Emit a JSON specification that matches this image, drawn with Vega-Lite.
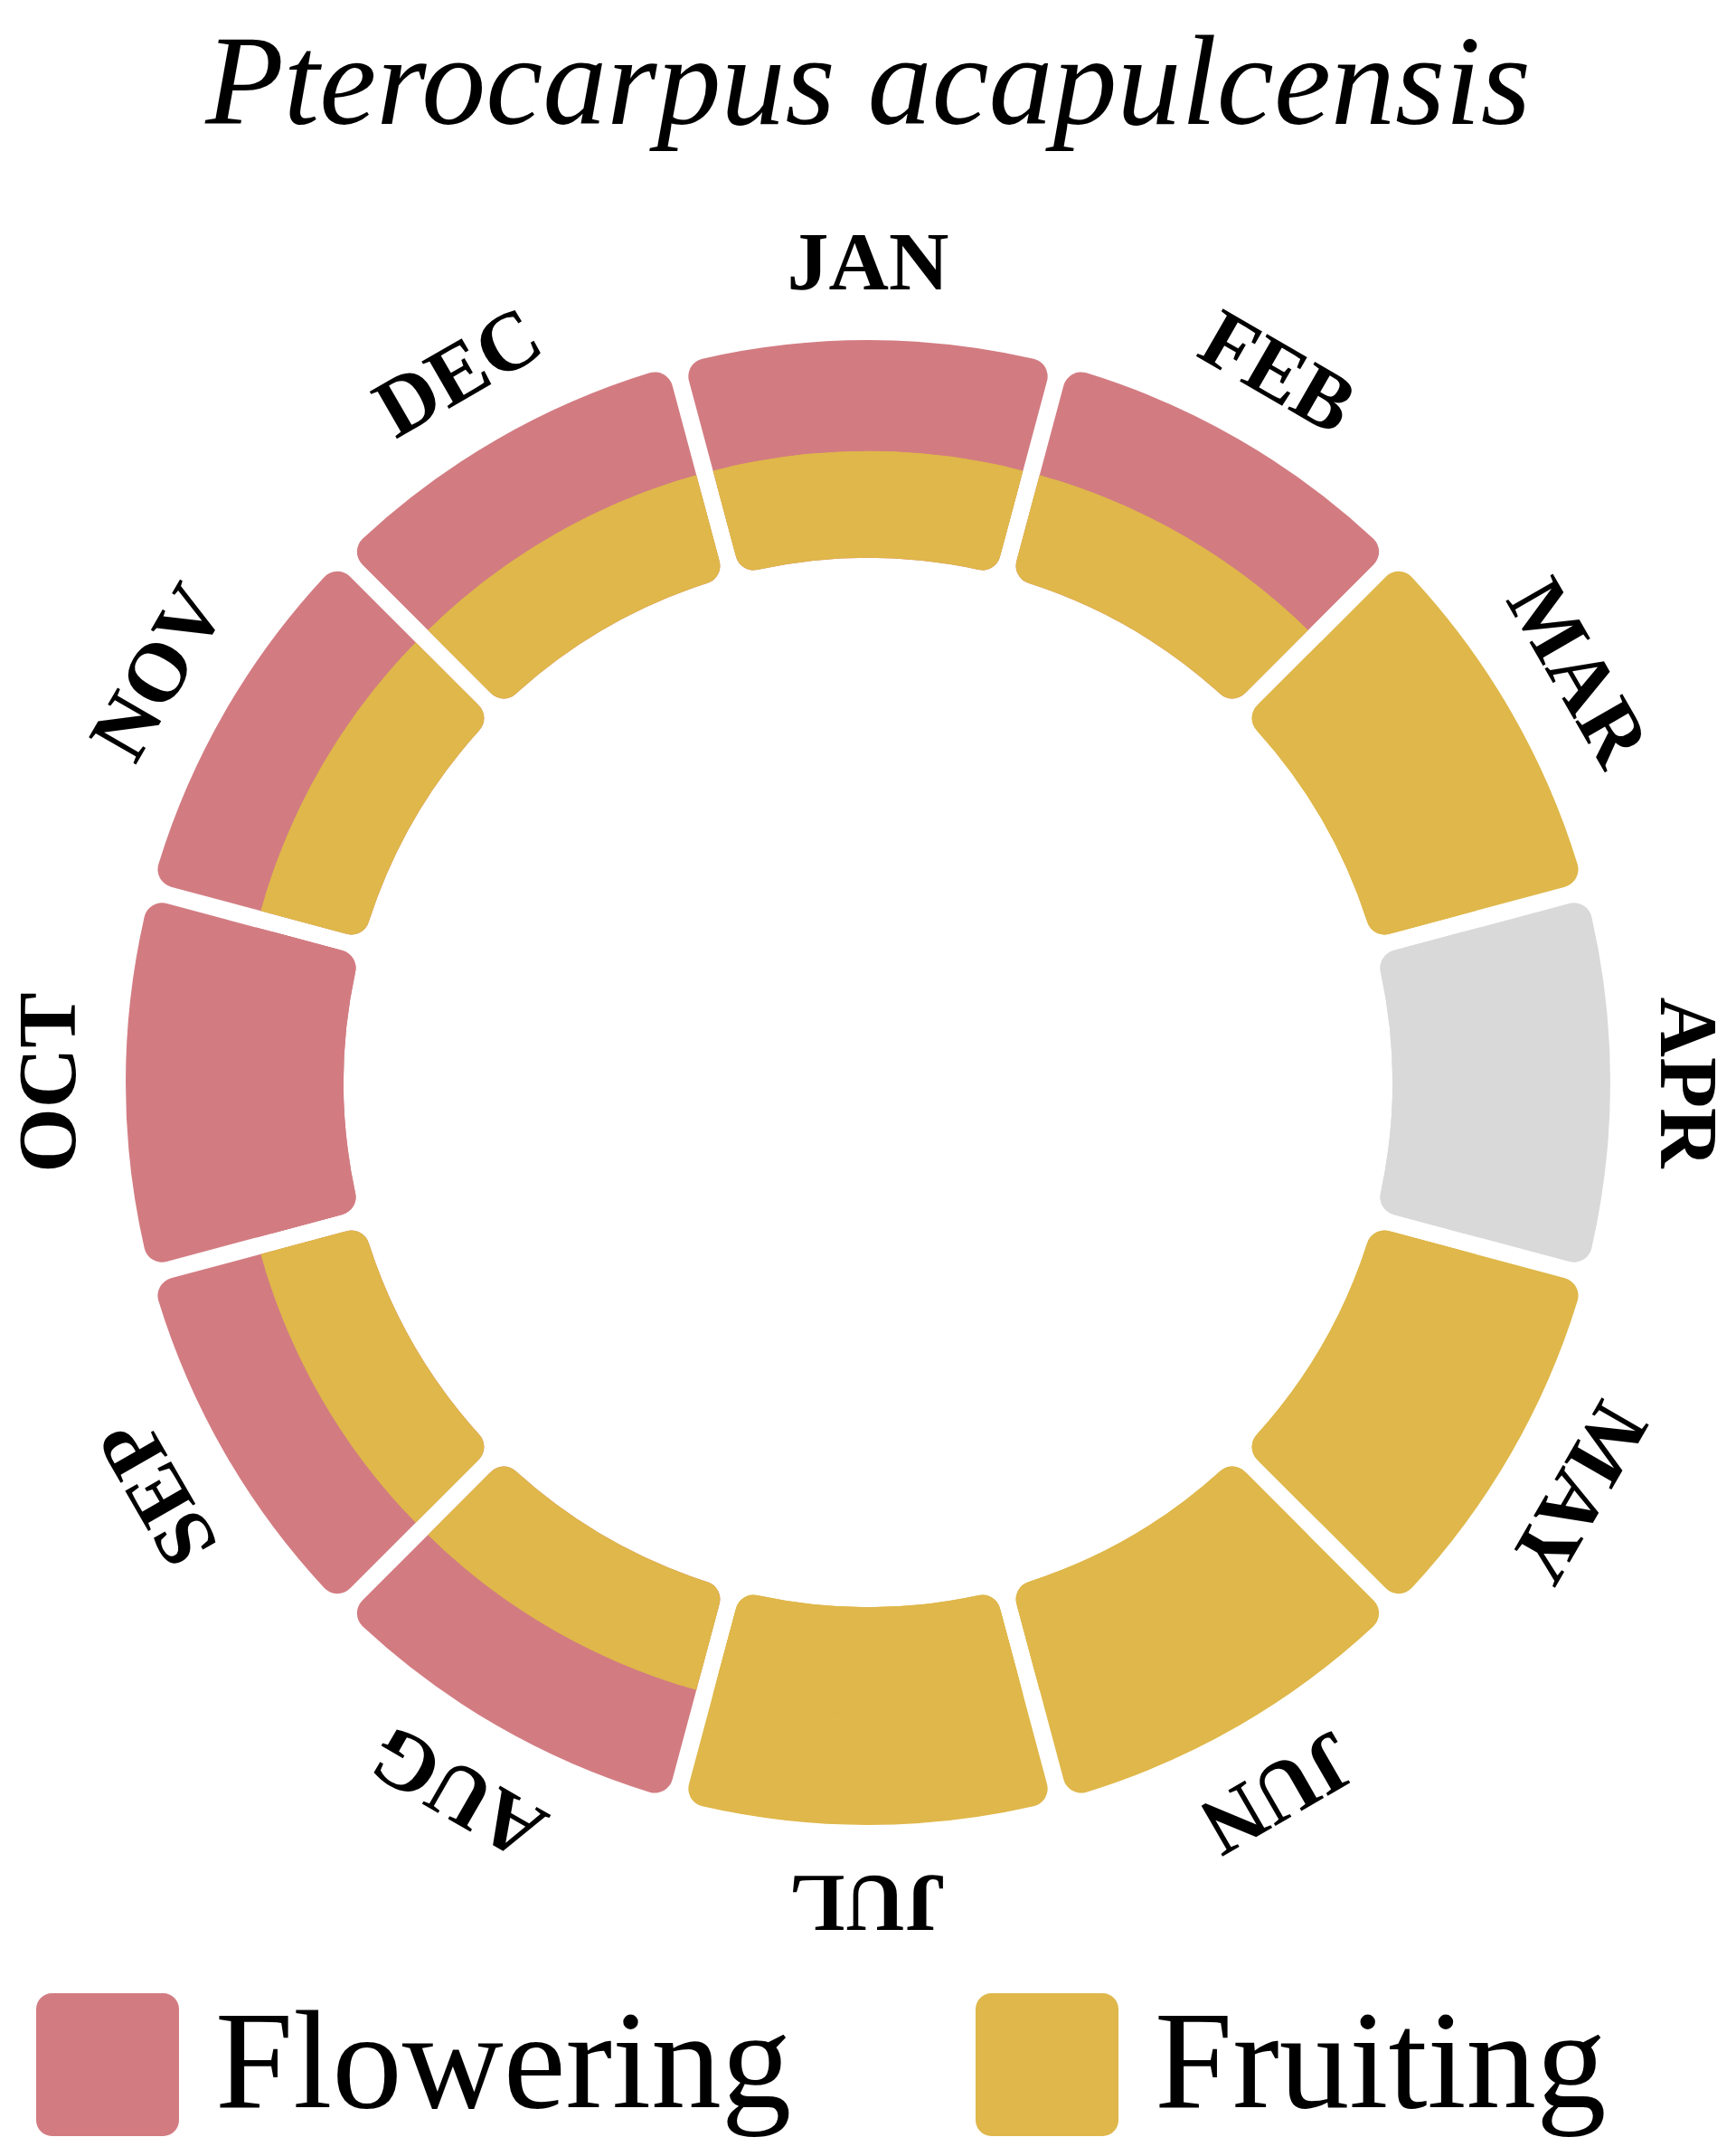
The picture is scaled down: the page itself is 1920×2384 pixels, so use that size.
{
  "$schema": "https://vega.github.io/schema/vega-lite/v6.json",
  "width": 1920,
  "height": 1994,
  "autosize": {"type": "none"},
  "padding": {"top": 200, "left": 0, "right": 0, "bottom": 190},
  "background": "white",
  "config": {"view": {"stroke": null}},
  "title": {
    "text": "Pterocarpus acapulcensis",
    "font": "Liberation Serif",
    "fontStyle": "italic",
    "fontWeight": "normal",
    "fontSize": 142,
    "color": "black",
    "anchor": "middle",
    "baseline": "alphabetic",
    "offset": -79
  },
  "data": {
    "values": [
      {"month": "JAN", "idx": 1, "outer": "Flowering", "inner": "Fruiting"},
      {"month": "FEB", "idx": 2, "outer": "Flowering", "inner": "Fruiting"},
      {"month": "MAR", "idx": 3, "outer": "Fruiting", "inner": "Fruiting"},
      {"month": "APR", "idx": 4, "outer": "None", "inner": "None"},
      {"month": "MAY", "idx": 5, "outer": "Fruiting", "inner": "Fruiting"},
      {"month": "JUN", "idx": 6, "outer": "Fruiting", "inner": "Fruiting"},
      {"month": "JUL", "idx": 7, "outer": "Fruiting", "inner": "Fruiting"},
      {"month": "AUG", "idx": 8, "outer": "Flowering", "inner": "Fruiting"},
      {"month": "SEP", "idx": 9, "outer": "Flowering", "inner": "Fruiting"},
      {"month": "OCT", "idx": 10, "outer": "Flowering", "inner": "Flowering"},
      {"month": "NOV", "idx": 11, "outer": "Flowering", "inner": "Fruiting"},
      {"month": "DEC", "idx": 12, "outer": "Flowering", "inner": "Fruiting"}
    ]
  },
  "encoding": {
    "theta": {
      "aggregate": "count",
      "type": "quantitative",
      "stack": true,
      "scale": {"domain": [0, 12], "range": [-0.2617994, 6.0213859]}
    },
    "order": {"field": "idx", "type": "quantitative", "sort": "ascending"}
  },
  "layer": [
    {
      "mark": {"type": "arc", "outerRadius": 821, "innerRadius": 580, "cornerRadius": 20, "padAngle": 0.0189},
      "encoding": {
        "color": {
          "field": "outer",
          "type": "nominal",
          "scale": {"domain": ["Flowering", "Fruiting", "None"], "range": ["#D27C82", "#DFB74A", "#D9D9D9"]},
          "legend": {
            "title": null,
            "orient": "none",
            "legendX": 40,
            "legendY": 2004,
            "direction": "horizontal",
            "padding": 0,
            "values": ["Flowering", "Fruiting"],
            "symbolType": "M -0.78 -1 L 0.78 -1 C 0.9 -1 1 -0.9 1 -0.78 L 1 0.78 C 1 0.9 0.9 1 0.78 1 L -0.78 1 C -0.9 1 -1 0.9 -1 0.78 L -1 -0.78 C -1 -0.9 -0.9 -1 -0.78 -1 Z",
            "symbolSize": 24964,
            "symbolStrokeWidth": 0,
            "symbolOpacity": 1,
            "labelFont": "Liberation Serif",
            "labelFontSize": 155,
            "labelColor": "black",
            "labelLimit": 2000,
            "labelOffset": 40,
            "columnPadding": 203
          }
        }
      }
    },
    {
      "mark": {"type": "arc", "outerRadius": 698, "innerRadius": 580, "cornerRadius": 20, "padAngle": 0.02094},
      "encoding": {
        "color": {
          "field": "inner",
          "type": "nominal",
          "scale": {"domain": ["Flowering", "Fruiting", "None"], "range": ["#D27C82", "#DFB74A", "#D9D9D9"]},
          "legend": {
            "title": null,
            "orient": "none",
            "legendX": 40,
            "legendY": 2004,
            "direction": "horizontal",
            "padding": 0,
            "values": ["Flowering", "Fruiting"],
            "symbolType": "M -0.78 -1 L 0.78 -1 C 0.9 -1 1 -0.9 1 -0.78 L 1 0.78 C 1 0.9 0.9 1 0.78 1 L -0.78 1 C -0.9 1 -1 0.9 -1 0.78 L -1 -0.78 C -1 -0.9 -0.9 -1 -0.78 -1 Z",
            "symbolSize": 24964,
            "symbolStrokeWidth": 0,
            "symbolOpacity": 1,
            "labelFont": "Liberation Serif",
            "labelFontSize": 155,
            "labelColor": "black",
            "labelLimit": 2000,
            "labelOffset": 40,
            "columnPadding": 203
          }
        }
      }
    },
    {
      "mark": {"type": "arc", "outerRadius": 698, "innerRadius": 602, "cornerRadius": 0, "padAngle": 0.020613},
      "encoding": {
        "color": {
          "field": "inner",
          "type": "nominal",
          "scale": {"domain": ["Flowering", "Fruiting", "None"], "range": ["#D27C82", "#DFB74A", "#D9D9D9"]},
          "legend": {
            "title": null,
            "orient": "none",
            "legendX": 40,
            "legendY": 2004,
            "direction": "horizontal",
            "padding": 0,
            "values": ["Flowering", "Fruiting"],
            "symbolType": "M -0.78 -1 L 0.78 -1 C 0.9 -1 1 -0.9 1 -0.78 L 1 0.78 C 1 0.9 0.9 1 0.78 1 L -0.78 1 C -0.9 1 -1 0.9 -1 0.78 L -1 -0.78 C -1 -0.9 -0.9 -1 -0.78 -1 Z",
            "symbolSize": 24964,
            "symbolStrokeWidth": 0,
            "symbolOpacity": 1,
            "labelFont": "Liberation Serif",
            "labelFontSize": 155,
            "labelColor": "black",
            "labelLimit": 2000,
            "labelOffset": 40,
            "columnPadding": 203
          }
        }
      }
    },
    {
      "mark": {"type": "text", "radius": 905, "font": "Liberation Serif", "fontWeight": "bold", "fontSize": 92, "color": "black", "align": "center", "baseline": "middle"},
      "encoding": {
        "text": {"field": "month", "type": "nominal"},
        "angle": {
          "field": "idx",
          "type": "quantitative",
          "scale": {"domain": [1, 13], "range": [0, 360], "zero": false, "nice": false},
          "legend": null
        }
      }
    }
  ]
}
